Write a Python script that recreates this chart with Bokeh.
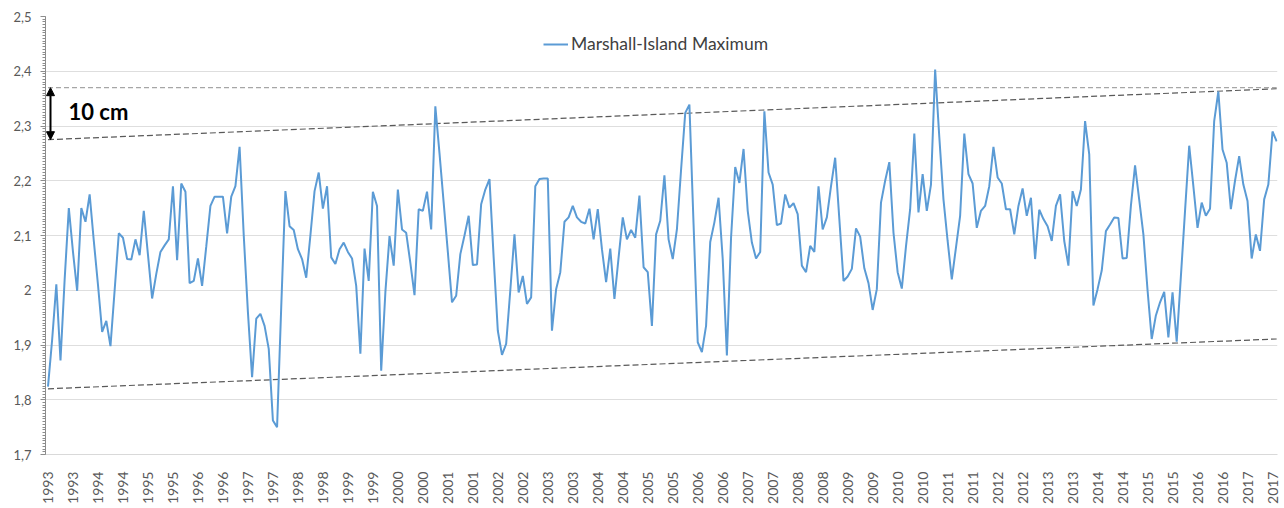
from bokeh.plotting import figure
from bokeh.embed import file_html
from bokeh.resources import INLINE
from bokeh.models import (FixedTicker, CustomJSTickFormatter, Legend, LegendItem,
                          Arrow, NormalHead, Label, Range1d)

# ---- data (monthly maximum sea level, Jan 1993 .. Aug 2017) ----
start_year = 1993
sea_level = [
    1.824, 1.91, 2.011, 1.872, 2.02, 2.15, 2.07, 1.999, 2.15, 2.125, 2.175, 2.09,
    2.01, 1.924, 1.944, 1.898, 2.0, 2.104, 2.096, 2.057, 2.056, 2.093, 2.064, 2.145,
    2.065, 1.985, 2.03, 2.07, 2.082, 2.093, 2.19, 2.055, 2.195, 2.18, 2.013, 2.017,
    2.058, 2.008, 2.08, 2.154, 2.171, 2.171, 2.171, 2.104, 2.171, 2.19, 2.262, 2.1,
    1.96, 1.841, 1.948, 1.957, 1.935, 1.893, 1.762, 1.75, 1.97, 2.181, 2.117, 2.11,
    2.075, 2.057, 2.023, 2.1, 2.181, 2.215, 2.149, 2.19, 2.06, 2.048, 2.075, 2.087,
    2.07, 2.058, 2.008, 1.884, 2.076, 2.017, 2.18, 2.154, 1.853, 1.996, 2.099, 2.045,
    2.184, 2.111, 2.105, 2.05, 1.991, 2.148, 2.145, 2.18, 2.111, 2.336, 2.25, 2.16,
    2.07, 1.978, 1.99, 2.066, 2.1, 2.136, 2.046, 2.047, 2.157, 2.184, 2.203, 2.06,
    1.926, 1.882, 1.902, 2.0, 2.102, 1.996, 2.026, 1.975, 1.987, 2.19, 2.203, 2.204,
    2.204, 1.926, 2.002, 2.033, 2.125, 2.133, 2.154, 2.133, 2.125, 2.122, 2.149, 2.093,
    2.148, 2.075, 2.015, 2.076, 1.984, 2.06, 2.133, 2.093, 2.11, 2.096, 2.173, 2.042,
    2.033, 1.935, 2.102, 2.127, 2.21, 2.093, 2.057, 2.111, 2.22, 2.324, 2.339, 2.12,
    1.905, 1.887, 1.935, 2.088, 2.124, 2.169, 2.057, 1.881, 2.096, 2.225, 2.196, 2.258,
    2.145, 2.087, 2.058, 2.07, 2.327, 2.215, 2.193, 2.119, 2.122, 2.175, 2.151, 2.159,
    2.139, 2.045, 2.033, 2.081, 2.07, 2.19, 2.111, 2.133, 2.19, 2.242, 2.13, 2.017,
    2.025, 2.039, 2.113, 2.098, 2.04, 2.013, 1.964, 2.002, 2.16, 2.2, 2.234, 2.105,
    2.033, 2.003, 2.08, 2.148, 2.286, 2.142, 2.212, 2.145, 2.193, 2.403, 2.28, 2.166,
    2.09, 2.02, 2.078, 2.136, 2.286, 2.212, 2.195, 2.114, 2.145, 2.154, 2.19, 2.262,
    2.206, 2.195, 2.148, 2.148, 2.102, 2.154, 2.186, 2.136, 2.169, 2.057, 2.147, 2.13,
    2.117, 2.09, 2.154, 2.175, 2.09, 2.045, 2.181, 2.154, 2.184, 2.309, 2.248, 1.972,
    2.002, 2.036, 2.108, 2.12, 2.133, 2.132, 2.058, 2.059, 2.154, 2.228, 2.165, 2.102,
    2.0, 1.911, 1.954, 1.978, 1.997, 1.914, 1.996, 1.906, 2.025, 2.145, 2.264, 2.19,
    2.114, 2.16, 2.136, 2.149, 2.309, 2.363, 2.257, 2.233, 2.148, 2.2, 2.245, 2.193,
    2.163, 2.058, 2.102, 2.072, 2.166, 2.193, 2.29, 2.272,
]
months = list(range(len(sea_level)))

# trend envelope (start, end) and top reference level
trend_upper = [2.275, 2.368]
trend_lower = [1.82, 1.911]
top_level = 2.37
arrow_range = [2.275, 2.37]
annotation_text = "10 cm"
series_name = "Marshall-Island Maximum"

x_ticks = list(range(0, len(sea_level), 6))
x_labels = {t: str(start_year + t // 12) for t in x_ticks}
y_ticks = [1.7, 1.8, 1.9, 2.0, 2.1, 2.2, 2.3, 2.4, 2.5]
y_minor = [round(1.7 + 0.005 * k, 3) for k in range(161)]

FONT = "Lato"

p = figure(width=1280, height=506, output_backend="svg", toolbar_location=None,
           x_range=Range1d(-0.6, 295.2), y_range=Range1d(1.7, 2.5),
           min_border_left=45, min_border_right=3, min_border_top=16, min_border_bottom=50)
p.outline_line_color = None
p.background_fill_color = "white"
p.xgrid.grid_line_color = None
p.ygrid.grid_line_color = "#dedede"
p.ygrid.grid_line_width = 1

# y axis
ya = p.yaxis[0]
ya.ticker = FixedTicker(ticks=y_ticks, minor_ticks=y_minor)
ya.formatter = CustomJSTickFormatter(code="""
    var v = Math.round(tick * 10) / 10;
    return v.toString().replace('.', ',');
""")
ya.axis_line_color = "#8c8c8c"
ya.major_tick_line_color = "#8c8c8c"
ya.minor_tick_line_color = "#8c8c8c"
ya.major_tick_out = 5
ya.major_tick_in = 0
ya.minor_tick_out = 3
ya.minor_tick_in = 0
ya.major_label_standoff = 9
ya.major_label_text_font = FONT
ya.major_label_text_font_size = "13px"
ya.major_label_text_color = "#595959"

# x axis
xa = p.xaxis[0]
xa.ticker = FixedTicker(ticks=x_ticks, minor_ticks=[])
xa.major_label_overrides = x_labels
xa.major_label_orientation = 1.5707963267948966
xa.axis_line_color = "#d9d9d9"
xa.major_tick_line_color = None
xa.minor_tick_line_color = None
xa.major_label_standoff = 11
xa.major_label_text_font = FONT
xa.major_label_text_font_size = "14px"
xa.major_label_text_color = "#595959"

# reference / trend lines
x_ends = [months[0], months[-1]]
p.line(x_ends, [top_level, top_level], line_color="#a6a6a6", line_width=1.2, line_dash="5 3")
p.line(x_ends, trend_upper, line_color="#595959", line_width=1.2, line_dash="6 3")
p.line(x_ends, trend_lower, line_color="#595959", line_width=1.2, line_dash="6 3")

# data series
r = p.line(months, sea_level, line_color="#5b9bd5", line_width=2)

# arrow + label
arr = Arrow(x_start=0.6, y_start=arrow_range[0], x_end=0.6, y_end=arrow_range[1],
            line_color="black", line_width=2,
            start=NormalHead(size=8, fill_color="black", line_color="black"),
            end=NormalHead(size=8, fill_color="black", line_color="black"))
p.add_layout(arr)
p.add_layout(Label(x=4.9, y=2.326, text=annotation_text, text_font=FONT,
                   text_font_style="bold", text_font_size="22px", text_color="black",
                   text_baseline="middle", text_align="left"))

legend = Legend(items=[LegendItem(label=series_name, renderers=[r])],
                location=(498, 400), orientation="horizontal",
                border_line_color=None, background_fill_alpha=0,
                padding=0, margin=0, spacing=0,
                glyph_width=25, glyph_height=16, label_standoff=3,
                label_text_font=FONT, label_text_font_size="17.5px",
                label_text_color="#404040")
p.add_layout(legend)

open("out.html", "w").write(file_html(p, INLINE))
